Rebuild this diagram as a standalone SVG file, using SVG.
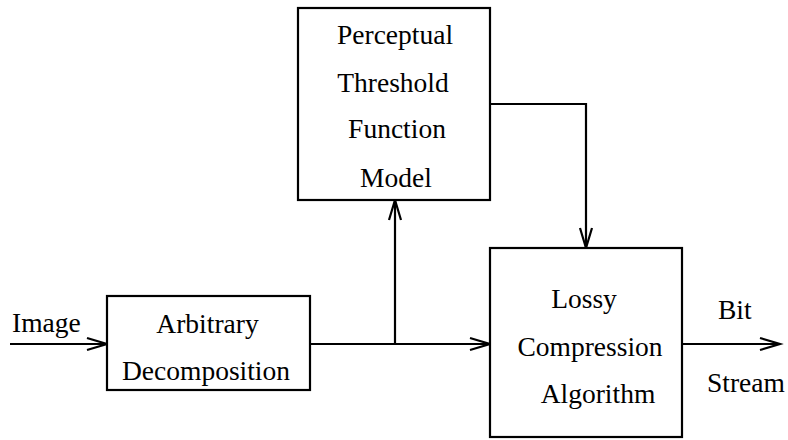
<svg xmlns="http://www.w3.org/2000/svg" width="788" height="440" viewBox="0 0 788 440">
<style>
.box{fill:#fff;stroke:#000;stroke-width:2.2}
.m{text-anchor:middle}
.c{fill:none;stroke:#000;stroke-width:2.2}
</style>
<defs>
<marker id="ah" markerUnits="userSpaceOnUse" markerWidth="24" markerHeight="14" refX="20" refY="6" orient="auto" overflow="visible">
<path d="M0,0 L20,6 L0,12" fill="none" stroke="#000" stroke-width="2.2"/>
</marker>
</defs>
<rect width="788" height="440" fill="#fff"/>
<g id="connectors">
<line class="c" x1="10" y1="344" x2="107" y2="344" marker-end="url(#ah)"/>
<line class="c" x1="310" y1="344" x2="490" y2="344" marker-end="url(#ah)"/>
<line class="c" x1="395" y1="344" x2="395" y2="200" marker-end="url(#ah)"/>
<polyline class="c" points="490,104 586,104 586,248" marker-end="url(#ah)"/>
<line class="c" x1="682" y1="344" x2="780" y2="344" marker-end="url(#ah)"/>
</g>
<g font-family="Liberation Serif, DejaVu Serif, serif" font-size="27.5" fill="#000">
<g id="image-label"><text x="12" y="332">Image</text></g>
<g id="bitstream-label">
<text x="718" y="319">Bit</text>
<text x="707" y="392">Stream</text>
</g>
<g id="arbitrary">
<rect class="box" x="107" y="296" width="203" height="94"/>
<text class="m" x="207.5" y="333">Arbitrary</text>
<text class="m" x="206" y="380">Decomposition</text>
</g>
<g id="perceptual">
<rect class="box" x="298" y="8" width="192" height="192"/>
<text class="m" x="395" y="44">Perceptual</text>
<text class="m" x="393" y="92">Threshold</text>
<text class="m" x="397" y="138">Function</text>
<text class="m" x="396" y="187">Model</text>
</g>
<g id="lossy">
<rect class="box" x="490" y="248" width="192" height="189"/>
<text class="m" x="584" y="308">Lossy</text>
<text class="m" x="590" y="356">Compression</text>
<text class="m" x="598" y="403">Algorithm</text>
</g>
</g>
</svg>
